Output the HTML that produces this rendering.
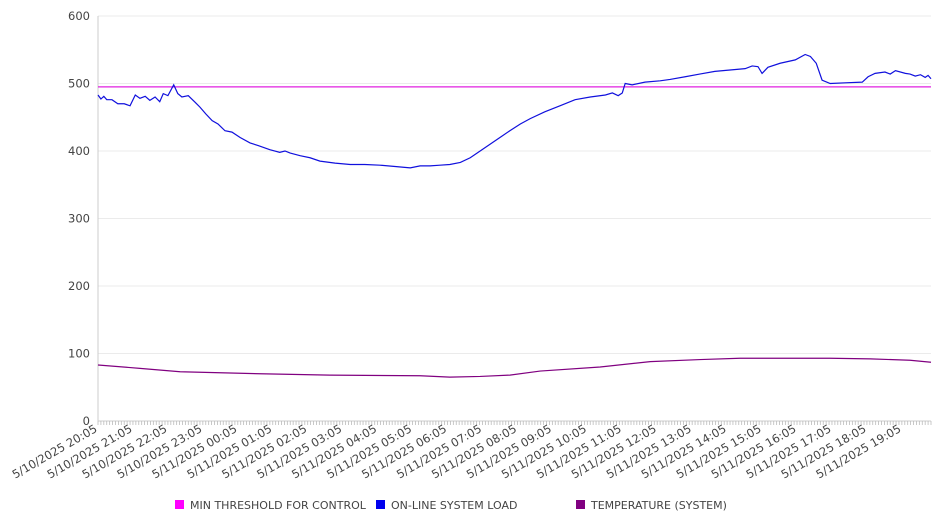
<!DOCTYPE html>
<html><head><meta charset="utf-8"><style>
body{margin:0;background:#fff;}
svg{display:block;font-family:"DejaVu Sans","Liberation Sans",sans-serif;}
</style></head><body>
<svg id="chart" width="946" height="526"></svg>
<script>
const xTickLabels=["5/10/2025 20:05","5/10/2025 21:05","5/10/2025 22:05","5/10/2025 23:05","5/11/2025 00:05","5/11/2025 01:05","5/11/2025 02:05","5/11/2025 03:05","5/11/2025 04:05","5/11/2025 05:05","5/11/2025 06:05","5/11/2025 07:05","5/11/2025 08:05","5/11/2025 09:05","5/11/2025 10:05","5/11/2025 11:05","5/11/2025 12:05","5/11/2025 13:05","5/11/2025 14:05","5/11/2025 15:05","5/11/2025 16:05","5/11/2025 17:05","5/11/2025 18:05","5/11/2025 19:05"];
const yTicks=[0,100,200,300,400,500,600];
const thresholdValue=495;
// minutes since 5/10/2025 20:05
const loadMinutes=[0,5,10,15,24,34,45,55,64,72,81,89,98,106,112,120,130,137,144,155,167,175,185,196,206,218,230,244,261,275,295,312,321,330,347,364,381,407,433,458,484,510,536,553,570,587,604,622,639,656,673,690,707,725,742,767,793,819,845,871,883,893,900,905,917,939,965,982,1008,1033,1059,1085,1111,1123,1133,1140,1150,1171,1197,1214,1223,1233,1243,1257,1283,1312,1322,1334,1351,1360,1369,1386,1394,1403,1412,1420,1425,1430];
const loadValues=[483,477,481,476,476,470,470,467,483,478,481,475,480,473,485,482,498,485,480,482,472,465,455,445,440,430,428,420,412,408,402,398,400,397,393,390,385,382,380,380,379,377,375,378,378,379,380,383,390,400,410,420,430,440,448,458,467,476,480,483,486,482,486,500,498,502,504,506,510,514,518,520,522,526,525,515,524,530,535,543,540,530,505,500,501,502,510,515,517,514,519,515,514,511,513,509,512,507];
const tempMinutes=[0,72,141,278,398,553,604,656,707,759,862,948,1034,1102,1257,1326,1394,1430];
const tempValues=[83,78,73,70,68,67,65,66,68,74,80,88,91,93,93,92,90,87];

const NS="http://www.w3.org/2000/svg";
const svg=document.getElementById('chart');
const L=98,R=931,T=16,B=421,XMAX=1430;
const xs=m=>L+(R-L)*m/XMAX;
const ys=v=>B-(B-T)*v/600;
function mk(tag,attrs,parent){const e=document.createElementNS(NS,tag);for(const k in attrs)e.setAttribute(k,attrs[k]);(parent||svg).appendChild(e);return e;}

yTicks.forEach(v=>{
  const g=mk('line',{x1:L,x2:R,y1:ys(v),y2:ys(v),stroke:v===0?'#ccc':'#ebebeb','stroke-width':1});
  
  
  const t=mk('text',{x:90,y:ys(v)+4,'text-anchor':'end','font-size':11.5,fill:'#444'});
  t.textContent=v;
  
  
});
const ax=mk('line',{x1:L,x2:L,y1:T,y2:B,stroke:'#ccc'});


for(let m=0;m<=XMAX;m+=5){
  const tk=mk('line',{x1:xs(m),x2:xs(m),y1:B,y2:B+4,stroke:'#bbb','stroke-width':0.8});
  
  
}
xTickLabels.forEach((s,i)=>{
  const x=xs(i*60),y=B+10;
  const t=mk('text',{x:x,y:y,'text-anchor':'end','font-size':11.5,fill:'#444',transform:`rotate(-30 ${x} ${y})`});
  t.textContent=s;
  
  
});
const th=mk('line',{x1:L,x2:R,y1:ys(thresholdValue),y2:ys(thresholdValue),stroke:'#e020e0','stroke-width':1.2});


function line(ms,vs,color,name){
  const p=mk('polyline',{points:ms.map((m,i)=>xs(m)+','+ys(vs[i])).join(' '),fill:'none',stroke:color,'stroke-width':1.2});
  
  
}
line(loadMinutes,loadValues,'#1010dd','system-load-line');
line(tempMinutes,tempValues,'#800080','temperature-line');
const leg=[[175,'#ff00ff','MIN THRESHOLD FOR CONTROL','legend-threshold'],[376,'#0000ee','ON-LINE SYSTEM LOAD','legend-load'],[576,'#800080','TEMPERATURE (SYSTEM)','legend-temperature']];
leg.forEach(([x,c,s,n])=>{
  const g=mk('g',{});
  
  
  mk('rect',{x:x,y:500,width:9,height:9,fill:c},g);
  const t=mk('text',{x:x+15,y:509,'font-size':11,fill:'#444'},g);
  t.textContent=s;
});
</script>
</body></html>
